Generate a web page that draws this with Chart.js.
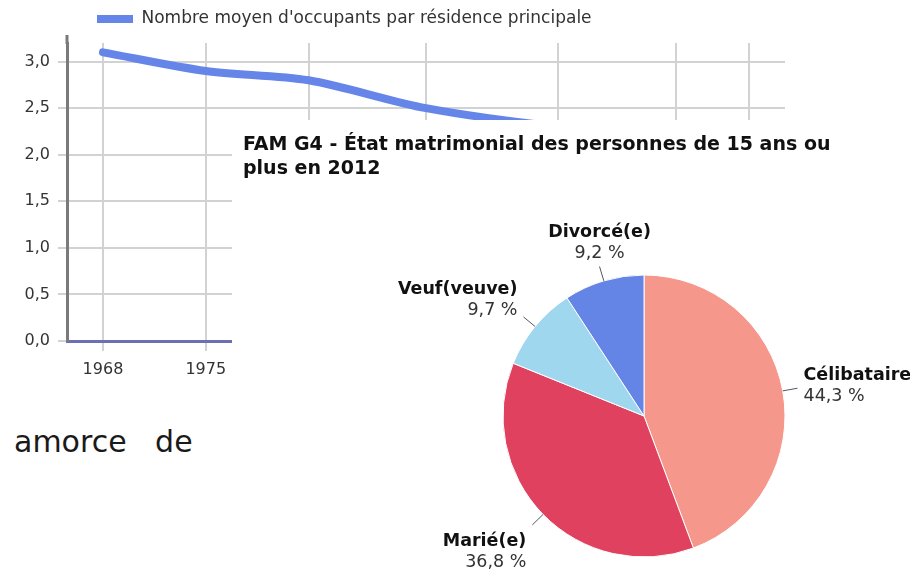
<!DOCTYPE html>
<html lang="fr">
<head>
<meta charset="utf-8">
<title>Ménages et état matrimonial</title>
<script src="https://cdn.jsdelivr.net/npm/chart.js@4/dist/chart.umd.min.js"></script>
<style>
  html, body { margin: 0; padding: 0; background: #fff; }
  body { position: relative; width: 910px; height: 571px; overflow: hidden; font-family: "DejaVu Sans", Verdana, sans-serif; }
  #lineBox { position: absolute; left: 0; top: 0; }
  #prose { position: absolute; left: 14px; top: 427px; font-size: 30px; line-height: 30px; color: #1a1a1a; word-spacing: 19px; white-space: nowrap; }
  #panel { position: absolute; left: 232px; top: 120px; width: 678px; height: 451px; background: #fff; overflow: hidden; }
</style>
</head>
<body>
<div id="lineBox"><canvas id="lineChart" width="800" height="390"></canvas></div>
<div id="prose">amorce de</div>
<div id="panel"><canvas id="pieChart" width="813" height="451"></canvas></div>

<script>
// Nombre moyen d'occupants par résidence principale, par recensement
const years = [1968, 1975, 1982, 1990, 1999, 2007, 2012];
const occupants = [3.1, 2.9, 2.8, 2.5, 2.3, 2.2, 2.1];
const yTickValues = [0, 0.5, 1.0, 1.5, 2.0, 2.5, 3.0];
const lineLabel = "Nombre moyen d'occupants par résidence principale";

// FAM G4 - État matrimonial des personnes de 15 ans ou plus en 2012
const statusLabels = ['Célibataire', 'Marié(e)', 'Veuf(veuve)', 'Divorcé(e)'];
const statusShares = [44.3, 36.8, 9.7, 9.2];
const statusColors = ['#f5978a', '#e0415f', '#9fd7ef', '#6585e6'];
const pieTitle = ['FAM G4 - État matrimonial des personnes de 15 ans ou', 'plus en 2012'];

const FONT = 'DejaVu Sans';
Chart.defaults.font.family = FONT;
const frNumber = (v) => v.toFixed(1).replace('.', ',');

// Legend sits left of centre, with a little extra room below it
const legendPlacement = {
  id: 'legendPlacement',
  beforeLayout(chart) {
    const lg = chart.legend;
    if (lg && !lg.__extended) {
      const fit = lg.fit;
      lg.fit = function () { fit.call(this); this.height += 5.5; };
      lg.__extended = true;
    }
  },
  afterLayout(chart) {
    if (chart.legend) chart.legend.left = 86.5;
  }
};

// Value axis line runs a few pixels above the plot area
const axisCap = {
  id: 'axisCap',
  afterDraw(chart) {
    const {ctx, chartArea} = chart;
    ctx.save();
    ctx.strokeStyle = '#7a7a7a';
    ctx.lineWidth = 3;
    ctx.beginPath();
    ctx.moveTo(chartArea.left, chartArea.top - 8);
    ctx.lineTo(chartArea.left, chartArea.top + 1);
    ctx.stroke();
    ctx.restore();
  }
};

new Chart(document.getElementById('lineChart'), {
  type: 'line',
  data: {
    datasets: [{
      label: lineLabel,
      data: years.map((yr, i) => ({x: yr, y: occupants[i]})),
      borderColor: '#6685e8',
      backgroundColor: '#6685e8',
      borderWidth: 8,
      borderCapStyle: 'round',
      borderJoinStyle: 'round',
      tension: 0.3,
      pointRadius: 0,
      fill: false
    }]
  },
  options: {
    responsive: false,
    devicePixelRatio: 1,
    animation: false,
    layout: { padding: { left: 0, right: 15, top: 0, bottom: 0 } },
    plugins: {
      legend: {
        display: true,
        position: 'top',
        align: 'start',
        labels: {
          boxWidth: 36,
          boxHeight: 8,
          padding: 10.5,
          color: '#333',
          font: { family: FONT, size: 17 },
          generateLabels: (chart) => Chart.defaults.plugins.legend.labels.generateLabels(chart)
            .map(item => Object.assign(item, { lineWidth: 0, strokeStyle: 'rgba(0,0,0,0)' }))
        }
      },
      tooltip: { enabled: false }
    },
    scales: {
      x: {
        type: 'linear',
        min: 1965.55,
        max: 2014.45,
        afterBuildTicks: (axis) => { axis.ticks = years.map(v => ({value: v})); },
        afterFit: (axis) => { axis.height = 49; },
        ticks: {
          color: '#333',
          padding: 9,
          maxRotation: 0,
          font: { family: FONT, size: 16 },
          callback: (v) => String(v)
        },
        grid: { color: '#d2d2d2', lineWidth: 2, tickLength: 10, drawTicks: true },
        border: { display: true, color: '#6e6eb4', width: 3 }
      },
      y: {
        type: 'linear',
        min: 0,
        max: 3.2,
        afterBuildTicks: (axis) => { axis.ticks = yTickValues.map(v => ({value: v})); },
        afterFit: (axis) => { axis.width = 67; },
        ticks: {
          color: '#333',
          padding: 8,
          font: { family: FONT, size: 16 },
          callback: (v) => frNumber(v)
        },
        grid: { color: '#d2d2d2', lineWidth: 2, tickLength: 9, drawTicks: true },
        border: { display: true, color: '#7a7a7a', width: 3 }
      }
    }
  },
  plugins: [legendPlacement, axisCap]
});

// Outside labels with short connector lines for each slice
const sliceLabels = {
  id: 'sliceLabels',
  afterDatasetsDraw(chart) {
    const {ctx} = chart;
    const meta = chart.getDatasetMeta(0);
    const values = chart.data.datasets[0].data;
    const names = chart.data.labels;
    meta.data.forEach((arc, i) => {
      const p = arc.getProps(['x', 'y', 'startAngle', 'endAngle', 'outerRadius'], true);
      const mid = (p.startAngle + p.endAngle) / 2;
      const dx = Math.cos(mid), dy = Math.sin(mid);
      const x0 = p.x + dx * p.outerRadius, y0 = p.y + dy * p.outerRadius;
      const x1 = p.x + dx * (p.outerRadius + 15), y1 = p.y + dy * (p.outerRadius + 15);
      ctx.save();
      ctx.strokeStyle = '#556';
      ctx.lineWidth = 1;
      ctx.beginPath();
      ctx.moveTo(x0, y0);
      ctx.lineTo(x1, y1);
      ctx.stroke();

      let align, tx, cy;
      if (Math.abs(dx) < 0.4) { align = 'center'; tx = x1; cy = y1 + 25 * dy; }
      else if (dx < 0) { align = 'right'; tx = x1 - 6; cy = y1 + 33 * dy + 4; }
      else { align = 'left'; tx = x1 + 6; cy = y1 + 33 * dy + 4; }
      ctx.textAlign = align;
      ctx.textBaseline = 'middle';
      ctx.fillStyle = '#111';
      ctx.font = 'bold 17.5px "' + FONT + '"';
      ctx.fillText(names[i], tx, cy - 10.5);
      ctx.fillStyle = '#333';
      ctx.font = '17.5px "' + FONT + '"';
      ctx.fillText(frNumber(values[i]) + ' %', tx, cy + 10.5);
      ctx.restore();
    });
  }
};

new Chart(document.getElementById('pieChart'), {
  type: 'pie',
  data: {
    labels: statusLabels,
    datasets: [{
      data: statusShares,
      backgroundColor: statusColors,
      borderColor: '#ffffff',
      borderWidth: 1,
      radius: 141
    }]
  },
  options: {
    responsive: false,
    devicePixelRatio: 1,
    animation: false,
    layout: { padding: { left: 11, right: 0, top: 0, bottom: 0 } },
    plugins: {
      legend: { display: false },
      tooltip: { enabled: false },
      title: {
        display: true,
        text: pieTitle,
        align: 'start',
        color: '#111',
        font: { family: FONT, size: 19, weight: 'bold', lineHeight: 1.263 },
        padding: { top: 13, bottom: 80 }
      }
    }
  },
  plugins: [sliceLabels]
});
</script>
</body>
</html>
